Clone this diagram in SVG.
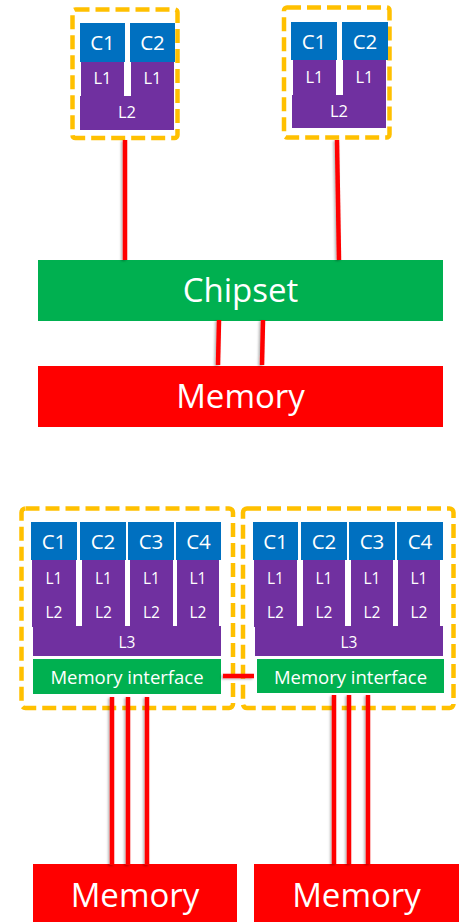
<svg xmlns="http://www.w3.org/2000/svg" width="465" height="922" viewBox="0 0 465 922">
  <defs>
    <style>
      .pkg { fill: none; stroke: #FFC000; stroke-width: 4.5; stroke-dasharray: 14 6; }
      .core { fill: #0070C0; }
      .cache { fill: #7030A0; }
      .green { fill: #00B050; }
      .mem { fill: #FF0000; }
      text { font-family: "Open Sans", "Liberation Sans", sans-serif; fill: #FFFFFF; text-anchor: middle; }
      .tc { font-size: 20.5px; }
      .tl { font-size: 16.5px; }
      .tl2 { font-size: 15.5px; }
      .tmi { font-size: 18.5px; }
      .tbig { font-size: 33px; }
      .bus { stroke: #FF0000; stroke-width: 4.5; fill: none; }
    </style>
    <filter id="shadow" x="-50%" y="-5%" width="200%" height="110%">
      <feDropShadow dx="-1.5" dy="1" stdDeviation="1.3" flood-color="#000000" flood-opacity="0.3"/>
    </filter>
  </defs>

  <!-- upper system: two dual-core packages on a shared chipset -->
  <g id="cpu-a">
    <rect class="pkg" x="72.5" y="9.5" width="105" height="128.5" rx="3"/>
    <rect class="core" x="80" y="23" width="45" height="39"/>
    <rect class="core" x="130" y="23" width="45" height="39"/>
    <rect class="cache" x="81" y="62" width="43" height="35"/>
    <rect class="cache" x="131" y="62" width="43" height="35"/>
    <rect class="cache" x="80" y="96" width="94" height="34"/>
    <text class="tc" x="102.5" y="50">C1</text>
    <text class="tc" x="152.5" y="50">C2</text>
    <text class="tl" x="102.5" y="83.5">L1</text>
    <text class="tl" x="152.5" y="83.5">L1</text>
    <text class="tl" x="127" y="117.5">L2</text>
  </g>

  <g id="cpu-b">
    <rect class="pkg" x="284" y="7.5" width="105.5" height="130" rx="3"/>
    <rect class="core" x="291" y="22" width="46" height="38"/>
    <rect class="core" x="342" y="22" width="46" height="38"/>
    <rect class="cache" x="293" y="60" width="43" height="36"/>
    <rect class="cache" x="343" y="60" width="43" height="36"/>
    <rect class="cache" x="292" y="95" width="94" height="33"/>
    <text class="tc" x="314" y="48.5">C1</text>
    <text class="tc" x="365" y="48.5">C2</text>
    <text class="tl" x="314.5" y="82.5">L1</text>
    <text class="tl" x="364.5" y="82.5">L1</text>
    <text class="tl" x="339" y="117">L2</text>
  </g>

  <g id="chipset">
    <rect class="green" x="38" y="260" width="405" height="61"/>
    <text class="tbig" x="240.5" y="302">Chipset</text>
  </g>

  <g id="memory-shared">
    <rect class="mem" x="38" y="366" width="405" height="61"/>
    <text class="tbig" x="240.5" y="408">Memory</text>
  </g>

  <!-- lower system: two quad-core packages, each with its own memory -->
  <g id="node-a">
    <rect class="pkg" x="21.5" y="508.5" width="211.5" height="199.5" rx="4"/>
    <rect class="core" x="31" y="522" width="46" height="38"/>
    <rect class="core" x="80" y="522" width="46" height="38"/>
    <rect class="core" x="128" y="522" width="46" height="38"/>
    <rect class="core" x="176" y="522" width="45" height="38"/>
    <rect class="cache" x="32" y="560" width="44" height="67"/>
    <rect class="cache" x="82" y="560" width="43" height="67"/>
    <rect class="cache" x="130" y="560" width="43" height="67"/>
    <rect class="cache" x="177" y="560" width="42" height="67"/>
    <rect class="cache" x="33" y="626" width="188" height="30"/>
    <rect class="green" x="33" y="659" width="188" height="35"/>
    <text class="tc" x="54" y="549">C1</text>
    <text class="tc" x="103" y="549">C2</text>
    <text class="tc" x="151" y="549">C3</text>
    <text class="tc" x="198.5" y="549">C4</text>
    <text class="tl2" x="54" y="583.5">L1</text>
    <text class="tl2" x="103.5" y="583.5">L1</text>
    <text class="tl2" x="151.5" y="583.5">L1</text>
    <text class="tl2" x="198" y="583.5">L1</text>
    <text class="tl2" x="54" y="617.5">L2</text>
    <text class="tl2" x="103.5" y="617.5">L2</text>
    <text class="tl2" x="151.5" y="617.5">L2</text>
    <text class="tl2" x="198" y="617.5">L2</text>
    <text class="tl2" x="127" y="648">L3</text>
    <text class="tmi" x="127" y="684">Memory interface</text>
  </g>

  <g id="node-b">
    <rect class="pkg" x="243" y="508.5" width="210.5" height="199.5" rx="4"/>
    <rect class="core" x="253" y="522" width="45" height="38"/>
    <rect class="core" x="301" y="522" width="46" height="38"/>
    <rect class="core" x="349" y="522" width="46" height="38"/>
    <rect class="core" x="397" y="522" width="46" height="38"/>
    <rect class="cache" x="254" y="560" width="43" height="67"/>
    <rect class="cache" x="303" y="560" width="42" height="67"/>
    <rect class="cache" x="351" y="560" width="42" height="67"/>
    <rect class="cache" x="398" y="560" width="42" height="67"/>
    <rect class="cache" x="255" y="626" width="188" height="30"/>
    <rect class="green" x="257" y="659" width="187" height="34"/>
    <text class="tc" x="275.5" y="549">C1</text>
    <text class="tc" x="324" y="549">C2</text>
    <text class="tc" x="372" y="549">C3</text>
    <text class="tc" x="420" y="549">C4</text>
    <text class="tl2" x="275.5" y="583.5">L1</text>
    <text class="tl2" x="324" y="583.5">L1</text>
    <text class="tl2" x="372" y="583.5">L1</text>
    <text class="tl2" x="419" y="583.5">L1</text>
    <text class="tl2" x="275.5" y="617.5">L2</text>
    <text class="tl2" x="324" y="617.5">L2</text>
    <text class="tl2" x="372" y="617.5">L2</text>
    <text class="tl2" x="419" y="617.5">L2</text>
    <text class="tl2" x="349" y="648">L3</text>
    <text class="tmi" x="350.5" y="684">Memory interface</text>
  </g>

  <g id="memory-a">
    <rect class="mem" x="33" y="864" width="204" height="58"/>
    <text class="tbig" x="135" y="907">Memory</text>
  </g>

  <g id="memory-b">
    <rect class="mem" x="254" y="864" width="205" height="58"/>
    <text class="tbig" x="356.5" y="907">Memory</text>
  </g>

  <!-- buses -->
  <g id="connectors" filter="url(#shadow)">
    <line class="bus" x1="125" y1="140" x2="125" y2="260"/>
    <line class="bus" x1="337" y1="140" x2="339" y2="260"/>
    <line class="bus" x1="219" y1="320" x2="218" y2="365"/>
    <line class="bus" x1="263" y1="320" x2="262" y2="365"/>
    <line class="bus" x1="223" y1="676" x2="254" y2="676"/>
    <line class="bus" x1="112" y1="697" x2="112" y2="865"/>
    <line class="bus" x1="128" y1="697" x2="128" y2="865"/>
    <line class="bus" x1="147" y1="697" x2="147" y2="865"/>
    <line class="bus" x1="334" y1="695" x2="334" y2="864"/>
    <line class="bus" x1="349" y1="695" x2="349" y2="864"/>
    <line class="bus" x1="368" y1="695" x2="368" y2="864"/>
  </g>
</svg>
